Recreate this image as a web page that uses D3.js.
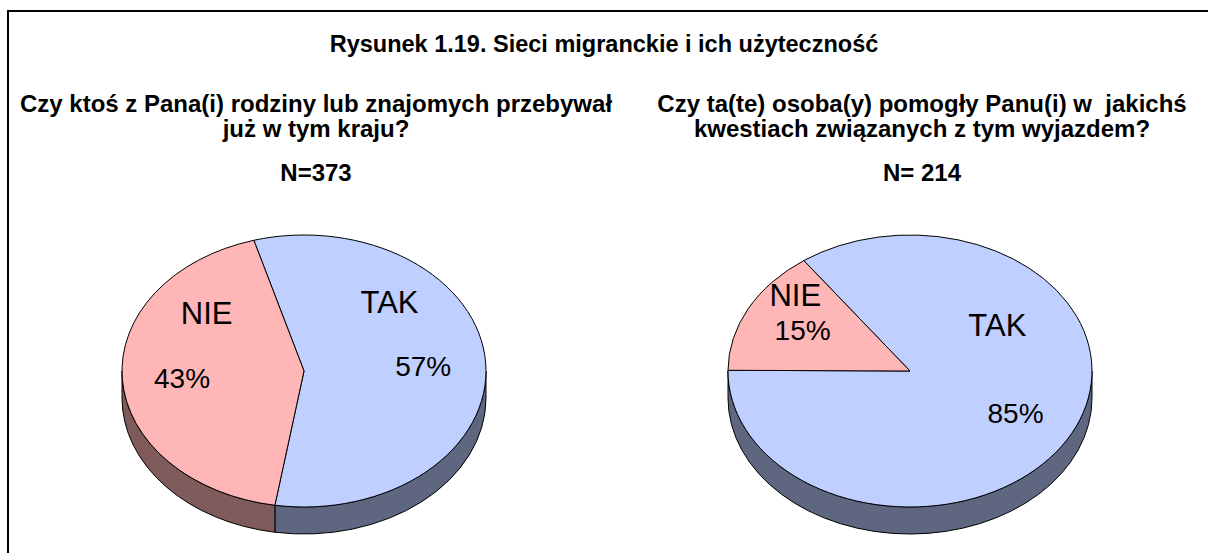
<!DOCTYPE html>
<html>
<head>
<meta charset="utf-8">
<script src="https://cdn.jsdelivr.net/npm/d3@7"></script>
<style>
  body { margin: 0; background: #fff; }
  text { font-family: Arial, "Liberation Sans", sans-serif; white-space: pre; }
</style>
</head>
<body>
<script>
var width = 1208, height = 553;

// data
var chartTitle = "Rysunek 1.19. Sieci migranckie i ich użyteczność";
var categories = ["TAK", "NIE"];
var leftValues = [57, 43];
var rightValues = [85, 15];
var leftQuestion = ["Czy ktoś z Pana(i) rodziny lub znajomych przebywał", "już w tym kraju?"];
var rightQuestion = ["Czy ta(te) osoba(y) pomogły Panu(i) w  jakichś", "kwestiach związanych z tym wyjazdem?"];
var leftN = "N=373";
var rightN = "N= 214";

// layout (not data)
var topColors = {"TAK": "#BFCFFF", "NIE": "#FFB6B6"};
var sideColors = {"TAK": "#5F6780", "NIE": "#7F5B5B"};
var rx = 182, ry = 136, depth = 27;
var headSize = 24;
var textShift = 12;   // headings sit a bit right of the pie centre
var charts = [
   {cx: 304, cy: 371, values: leftValues, question: leftQuestion, n: leftN, start: -16,
    // label spots in unit-ellipse coords: [name, percent]
    labels: {"TAK": [[0.47, -0.51], [0.655, -0.035]], "NIE": [[-0.535, -0.43], [-0.67, 0.05]]}},
   {cx: 910, cy: 371, values: rightValues, question: rightQuestion, n: rightN, start: -35.7,
    labels: {"TAK": [[0.48, -0.34], [0.58, 0.31]], "NIE": [[-0.63, -0.56], [-0.59, -0.30]]}}
];

var svg = d3.select("body").append("svg")
   .attr("width", width)
   .attr("height", height);

svg.append("rect")
   .attr("x", 8).attr("y", 11)
   .attr("width", width + 20).attr("height", height + 20)
   .attr("fill", "white")
   .attr("stroke", "black")
   .attr("stroke-width", 2);

svg.append("text")
   .attr("x", 604).attr("y", 52)
   .attr("text-anchor", "middle")
   .attr("font-size", 23.5)
   .attr("font-weight", "bold")
   .text(chartTitle);

function pt(c, a, dy) {
   return [c.cx + rx * Math.sin(a), c.cy - ry * Math.cos(a) + (dy || 0)];
}

charts.forEach(function (c) {
   var g = svg.append("g");

   // question + N
   c.question.forEach(function (line, i) {
      g.append("text")
         .attr("x", c.cx + textShift).attr("y", 112 + i * 25)
         .attr("text-anchor", "middle")
         .attr("font-size", headSize)
         .attr("font-weight", "bold")
         .text(line);
   });
   g.append("text")
      .attr("x", c.cx + textShift).attr("y", 181)
      .attr("text-anchor", "middle")
      .attr("font-size", headSize)
      .attr("font-weight", "bold")
      .text(c.n);

   var pie = d3.pie()
      .sort(null)
      .startAngle(c.start * Math.PI / 180)
      .endAngle(c.start * Math.PI / 180 + 2 * Math.PI);
   var arcs = pie(c.values);
   arcs.forEach(function (d, i) { d.cat = categories[i]; });

   // side walls: front half only (pi/2 .. 3pi/2)
   arcs.forEach(function (d) {
      for (var k = -1; k <= 1; k++) {
         var lo = Math.PI / 2 + 2 * Math.PI * k, hi = 3 * Math.PI / 2 + 2 * Math.PI * k;
         var a0 = Math.max(d.startAngle, lo), a1 = Math.min(d.endAngle, hi);
         if (a1 <= a0) continue;
         var p0 = pt(c, a0), p1 = pt(c, a1), q1 = pt(c, a1, depth), q0 = pt(c, a0, depth);
         var path = "M" + p0 + "A" + rx + "," + ry + " 0 0 1 " + p1 +
            "L" + q1 + "A" + rx + "," + ry + " 0 0 0 " + q0 + "Z";
         g.append("path")
            .attr("d", path)
            .attr("fill", sideColors[d.cat])
            .attr("stroke", "black")
            .attr("stroke-width", 1)
            .attr("stroke-linejoin", "round");
      }
   });

   // top faces: circle arcs squashed into an ellipse
   var arc = d3.arc().innerRadius(0).outerRadius(rx);
   g.append("g")
      .attr("transform", "translate(" + c.cx + "," + c.cy + ") scale(1," + (ry / rx) + ")")
      .selectAll("path")
      .data(arcs)
      .enter()
      .append("path")
      .attr("d", arc)
      .attr("fill", function (d) { return topColors[d.cat]; })
      .attr("stroke", "black")
      .attr("stroke-width", 1)
      .attr("vector-effect", "non-scaling-stroke")
      .attr("stroke-linejoin", "round");

   // labels: category name (larger) and percentage
   arcs.forEach(function (d) {
      var spots = c.labels[d.cat];
      var texts = [d.cat, d.value + "%"];
      texts.forEach(function (t, j) {
         g.append("text")
            .attr("x", c.cx + spots[j][0] * rx)
            .attr("y", c.cy + spots[j][1] * ry)
            .attr("dy", "0.36em")
            .attr("text-anchor", "middle")
            .attr("font-size", j === 0 ? 31 : 28)
            .text(t);
      });
   });
});
</script>
</body>
</html>
